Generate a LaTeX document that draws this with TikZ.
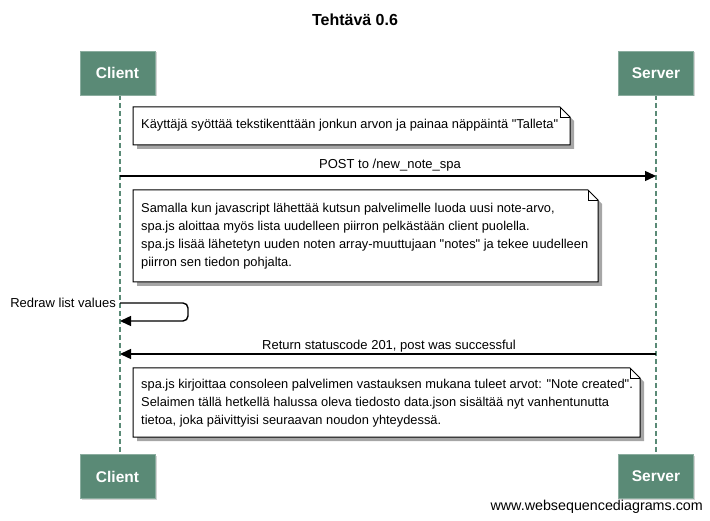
\documentclass[tikz,border=0pt]{standalone}
\usepackage{fontspec}
\setmainfont{Liberation Sans}[Ligatures=TeXOff]
\usetikzlibrary{arrows.meta,shadows}
\definecolor{actor}{RGB}{90,138,118}
\definecolor{life}{RGB}{90,138,118}
\tikzset{
  actorbox/.style={draw=actor!70!white, line width=0.6pt, fill=actor, text=white, minimum width=75pt, minimum height=44pt, inner sep=0pt, font=\bfseries\fontsize{15.5}{18}\selectfont, drop shadow={shadow xshift=1.5pt, shadow yshift=-1.5pt, opacity=0.35}},
  lifeline/.style={draw=life, line width=2.6pt, dash pattern=on 5pt off 3pt},
  msg/.style={line width=1.4pt, -{Triangle[length=11pt,width=10pt]}},
  lbl/.style={font=\fontsize{13}{15}\selectfont, inner sep=0pt},
  notetext/.style={font=\fontsize{12.85}{18}\selectfont, align=left, anchor=north west, inner sep=0pt},
}
\newcommand{\notebox}[4]{% x1 y1 x2 y2
  \fill[black!35] (#1+4,#2+4) -- (#3+4-10,#2+4) -- (#3+4,#2+4+10) -- (#3+4,#4+4) -- (#1+4,#4+4) -- cycle;
  \filldraw[fill=white, draw=black, line width=1pt] (#1,#2) -- (#3-10,#2) -- (#3,#2+10) -- (#3,#4) -- (#1,#4) -- cycle;
  \draw[line width=0.7pt] (#3-10,#2) -- (#3-10,#2+10) -- (#3,#2+10);
}
\begin{document}
\begin{tikzpicture}[x=1pt,y=-1pt]
\useasboundingbox (0,0) rectangle (710,521);
\node[font=\bfseries\fontsize{16}{18}\selectfont] (title) at (355,20) {Tehtävä 0.6};
% lifelines
\coordinate (ct) at (120,95); \coordinate (cb) at (120,455);
\coordinate (st) at (656,95); \coordinate (sb) at (656,455);
\draw[lifeline] (ct) -- (cb);
\draw[lifeline] (st) -- (sb);
% actors
\node[actorbox] (c1) at (117.5,73) {Client};
\node[actorbox] (s1) at (656,73) {Server};
\node[actorbox] (c2) at (117.5,476.5) {Client};
\node[actorbox] (s2) at (656,476.5) {Server};
% note 1
\notebox{133}{107}{570}{145}
\node[notetext] (n1) at (141,119) {Käyttäjä syöttää tekstikenttään jonkun arvon ja painaa näppäintä "Talleta"};
% message 1
\coordinate (m1a) at (120,176); \coordinate (m1b) at (656,176);
\draw[msg] (m1a) -- (m1b);
\node[lbl] (l1) at (390,165) {POST to /new\_note\_spa};
% note 2
\notebox{133}{190}{598}{282}
\node[notetext] (n2) at (141,203) {Samalla kun javascript lähettää kutsun palvelimelle luoda uusi note-arvo,\\spa.js aloittaa myös lista uudelleen piirron pelkästään client puolella.\\spa.js lisää lähetetyn uuden noten array-muuttujaan "notes" ja tekee uudelleen\\piirron sen tiedon pohjalta.};
% self message
\coordinate (r1) at (120,303); \coordinate (r2) at (120,321);
\draw[msg, rounded corners=5pt] (r1) -- (188,303) -- (188,321) -- (r2);
\node[lbl, anchor=east] (l2) at (116,303) {Redraw list values};
% message 2
\coordinate (m2a) at (656,354); \coordinate (m2b) at (120,354);
\draw[msg] (m2a) -- (m2b);
\node[lbl] (l3) at (389,346) {Return statuscode 201, post was successful};
% note 3
\notebox{133}{368}{640}{437}
\node[notetext] (n3) at (141,379) {spa.js kirjoittaa consoleen palvelimen vastauksen mukana tuleet arvot: "Note created".\\Selaimen tällä hetkellä halussa oleva tiedosto data.json sisältää nyt vanhentunutta\\tietoa, joka päivittyisi seuraavan noudon yhteydessä.};
\node[lbl, anchor=east, font=\fontsize{14.3}{16}\selectfont] (foot) at (703,507) {www.websequencediagrams.com};
\end{tikzpicture}
\end{document}
